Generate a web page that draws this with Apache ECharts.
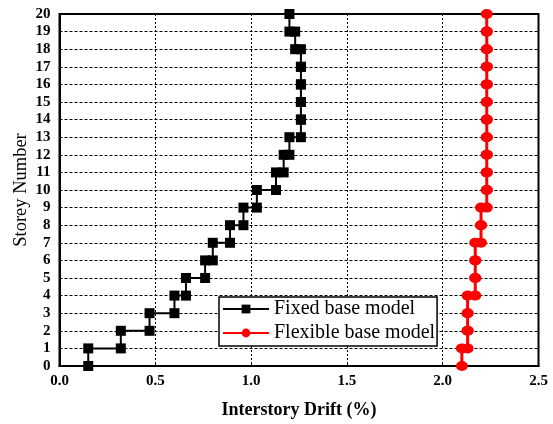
<!DOCTYPE html>
<html>
<head>
<meta charset="utf-8">
<script src="https://cdn.jsdelivr.net/npm/echarts@6/dist/echarts.min.js"></script>
<style>
html,body{margin:0;padding:0;background:#fff;}
#c{width:553px;height:424px;}
</style>
</head>
<body>
<div id="c"></div>
<script>
// Interstory drift (%) of each storey 1..20
const stories = [1,2,3,4,5,6,7,8,9,10,11,12,13,14,15,16,17,18,19,20];
const fixedDrift = [0.15,0.32,0.47,0.60,0.66,0.76,0.80,0.89,0.96,1.03,1.13,1.17,1.20,1.26,1.26,1.26,1.26,1.26,1.23,1.20];
const flexibleDrift = [2.10,2.13,2.13,2.13,2.17,2.17,2.17,2.20,2.20,2.23,2.23,2.23,2.23,2.23,2.23,2.23,2.23,2.23,2.23,2.23];
const xTicks = ['0.0','0.5','1.0','1.5','2.0','2.5'];
const seriesNames = ['Fixed base model','Flexible base model'];

// each storey drift is drawn from floor (s-1) to floor s
function stepPoints(drift){
  const pts = [];
  stories.forEach((s,i)=>{ pts.push([drift[i], s-1]); pts.push([drift[i], s]); });
  return pts;
}

const font = '"Liberation Serif","Times New Roman",serif';
const chart = echarts.init(document.getElementById('c'));
chart.setOption({
  animation:false,
  backgroundColor:'#fff',
  grid:{left:59.5,right:14.5,top:14,bottom:58,containLabel:false,outerBoundsMode:'none',
        show:true,borderColor:'#000',borderWidth:2,backgroundColor:'transparent'},
  legend:{
    orient:'vertical', left:219, top:297,
    backgroundColor:'#fff', borderColor:'#000', borderWidth:1.5,
    padding:[2,2,3,3], itemGap:4, itemWidth:46, itemHeight:11,
    textStyle:{fontFamily:font,fontSize:20,color:'#000',lineHeight:20},
    data:seriesNames
  },
  xAxis:{
    type:'value', min:0, max:2.5, interval:0.5,
    name:'Interstory Drift (%)', nameLocation:'middle', nameGap:35,
    nameTextStyle:{fontFamily:font,fontSize:18,fontWeight:'bold',color:'#000'},
    axisLine:{show:true,lineStyle:{color:'#000',width:2}},
    axisTick:{show:true,inside:true,length:4,lineStyle:{color:'#000',width:1}},
    axisLabel:{fontFamily:font,fontSize:15,fontWeight:'bold',color:'#000',margin:8,
      formatter:(v)=>xTicks[Math.round(v/0.5)]},
    splitLine:{show:true,lineStyle:{color:'#000',width:1,type:[2,2]}}
  },
  yAxis:{
    type:'value', min:0, max:20, interval:1,
    name:'Storey Number', nameLocation:'middle', nameGap:29, nameMoveOverlap:false,
    nameTextStyle:{fontFamily:font,fontSize:18.5,color:'#000'},
    axisLine:{show:true,lineStyle:{color:'#000',width:2}},
    axisTick:{show:false},
    axisLabel:{fontFamily:font,fontSize:15,fontWeight:'bold',color:'#000',margin:9},
    splitLine:{show:true,lineStyle:{color:'#000',width:1,type:[3,2]}}
  },
  series:[
    {name:seriesNames[0],type:'line',data:stepPoints(fixedDrift),
     symbol:'rect',symbolSize:10,lineStyle:{color:'#000',width:2},
     itemStyle:{color:'#000'},z:3},
    {name:seriesNames[1],type:'line',data:stepPoints(flexibleDrift),
     symbol:'circle',symbolSize:[12,10],lineStyle:{color:'#ff0000',width:3},
     itemStyle:{color:'#ff0000'},z:3}
  ]
});
</script>
</body>
</html>
